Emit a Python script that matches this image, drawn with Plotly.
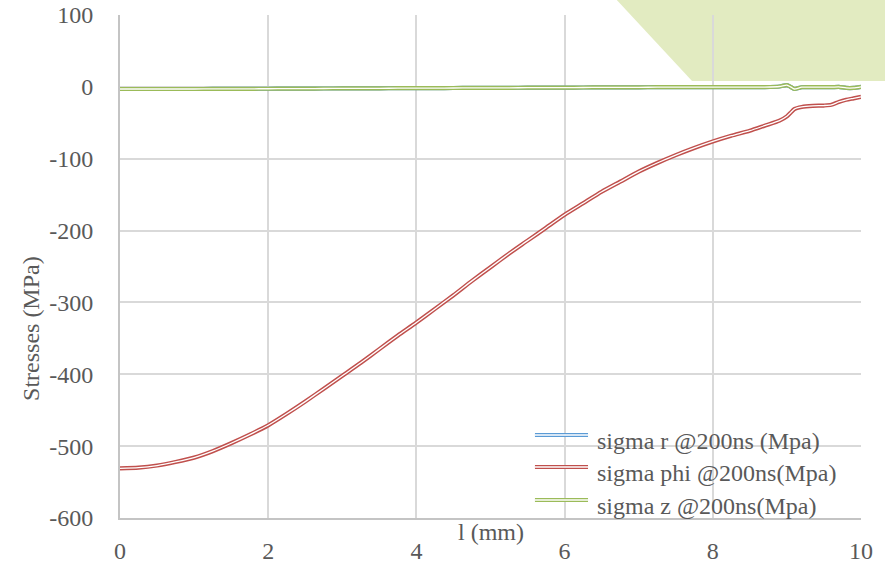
import plotly.graph_objects as go

# ---- data ----
l_mm = [0, 0.25, 0.5, 0.75, 1, 1.25, 1.5, 1.75, 2, 2.25, 2.5, 2.75, 3, 3.25, 3.5, 3.75,
        4, 4.25, 4.5, 4.75, 5, 5.25, 5.5, 5.75, 6, 6.25, 6.5, 6.75, 7, 7.25, 7.5, 7.75,
        8, 8.25, 8.5, 8.7, 8.9, 9.0, 9.05, 9.1, 9.2, 9.35, 9.5, 9.6, 9.7, 9.8, 9.9, 10]

sigma_phi = [-531, -530, -527, -522, -516, -507, -496, -484, -471, -455, -438, -420, -402,
             -384, -365, -346, -328, -309, -290, -270, -251, -232, -214, -196, -178, -162,
             -146, -132, -118, -106, -95, -85, -76, -68, -61, -54, -47, -41, -36, -31, -28,
             -26.5, -26, -25, -21, -18, -16, -14]

sigma_z = [-3, -3, -3, -3, -3, -2.9, -2.8, -2.7, -2.6, -2.5, -2.4, -2.3, -2.2, -2.1, -2,
           -1.9, -1.8, -1.7, -1.6, -1.5, -1.4, -1.3, -1.2, -1.1, -1, -0.9, -0.8, -0.7,
           -0.6, -0.5, -0.5, -0.4, -0.4, -0.4, -0.3, -0.3, 0.5, 2.5, 0, -3, -0.5, -0.3,
           -0.3, -0.5, 0, -1.5, -1.5, 0]

sigma_r = [-3, -3, -3, -3, -3, -2.9, -2.8, -2.7, -2.6, -2.5, -2.4, -2.3, -2.2, -2.1, -2,
           -1.9, -1.8, -1.7, -1.6, -1.5, -1.4, -1.3, -1.2, -1.1, -1, -0.9, -0.8, -0.7,
           -0.6, -0.5, -0.5, -0.4, -0.4, -0.4, -0.3, -0.3, 0.5, 2.5, 0, -3, -0.5, -0.3,
           -0.3, -0.5, 0, -1.5, -1.5, 0]

series_names = ["sigma r @200ns (Mpa)", "sigma phi @200ns(Mpa)", "sigma z @200ns(Mpa)"]
series_colors = ["#5B9BD5", "#C0504D", "#9BBB59"]
series_values = [sigma_r, sigma_phi, sigma_z]

x_ticks = [0, 2, 4, 6, 8, 10]
y_ticks = [100, 0, -100, -200, -300, -400, -500, -600]

FONT = "Liberation Serif, Times New Roman, serif"
TXT = "#595959"

fig = go.Figure()
for name, col, vals in zip(series_names, series_colors, series_values):
    fig.add_trace(go.Scatter(x=l_mm, y=vals, mode="lines", name=name,
                             line=dict(color=col, width=4.2, shape="spline", smoothing=0.6),
                             showlegend=False, hoverinfo="skip"))
    fig.add_trace(go.Scatter(x=l_mm, y=vals, mode="lines", name=name,
                             line=dict(color="white", width=1.3, shape="spline", smoothing=0.6),
                             showlegend=False, hoverinfo="skip"))

# decorative green polygon at top right
fig.add_shape(type="path", xref="paper", yref="paper", layer="below",
              path="M 0.664 1.04 L 0.772 0.869 L 1.04 0.869 L 1.04 1.04 Z",
              fillcolor="#E2EBC1", line=dict(width=0))

# manual legend with double lines
leg_y = [0.165, 0.1014, 0.0358]
for name, col, yy in zip(series_names, series_colors, leg_y):
    fig.add_shape(type="line", xref="paper", yref="paper", x0=0.560, x1=0.6316,
                  y0=yy, y1=yy, line=dict(color=col, width=4.2), layer="above")
    fig.add_shape(type="line", xref="paper", yref="paper", x0=0.560, x1=0.6316,
                  y0=yy, y1=yy, line=dict(color="white", width=1.3), layer="above")
    fig.add_annotation(x=0.641, y=yy - 0.012, xref="paper", yref="paper",
                       text=name, showarrow=False, xanchor="left", yanchor="middle",
                       font=dict(family=FONT, size=24, color=TXT))

# axis titles
fig.add_annotation(x=5, y=-0.028, xref="x", yref="paper", text="l (mm)",
                   showarrow=False, xanchor="center", yanchor="middle",
                   font=dict(family=FONT, size=24, color=TXT))
fig.add_annotation(x=-0.120, y=0.376, xref="paper", yref="paper", text="Stresses (MPa)",
                   textangle=-90, showarrow=False, xanchor="center", yanchor="middle",
                   font=dict(family=FONT, size=24, color=TXT))

fig.update_xaxes(range=[0, 10], tickvals=x_ticks, ticktext=[str(v) for v in x_ticks],
                 showgrid=True, gridcolor="#D9D9D9", gridwidth=1.6, zeroline=False,
                 showline=True, linecolor="#C4C4C4", linewidth=2, ticks="",
                 automargin=False,
                 ticklabelstandoff=10, tickfont=dict(family=FONT, size=24, color=TXT))
fig.update_yaxes(range=[-600, 100], tickvals=y_ticks, ticktext=[str(v) for v in y_ticks],
                 showgrid=True, gridcolor="#D9D9D9", gridwidth=1.6, zeroline=False,
                 showline=True, linecolor="#C4C4C4", linewidth=2, ticks="",
                 automargin=False,
                 ticklabelstandoff=20, tickfont=dict(family=FONT, size=24, color=TXT))

fig.update_layout(width=885, height=563, margin=dict(l=120, r=24, t=15, b=45),
                  paper_bgcolor="white", plot_bgcolor="rgba(0,0,0,0)",
                  showlegend=False)

fig.write_html("out.html")
